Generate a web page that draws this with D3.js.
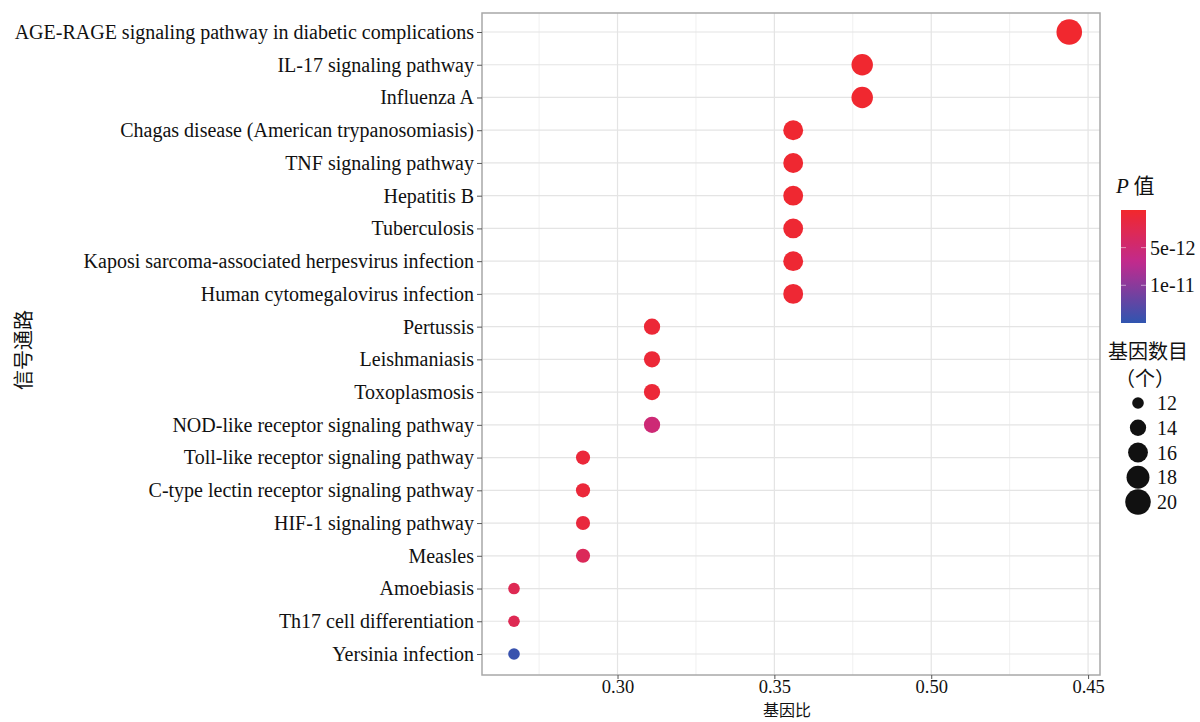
<!DOCTYPE html>
<html>
<head>
<meta charset="utf-8">
<script src="https://cdn.jsdelivr.net/npm/d3@7"></script>
<style>
  body { margin: 0; background: #fff; }
  svg text { font-family: "Liberation Serif", "Times New Roman", "Noto Sans CJK SC", serif; fill: #111; }
</style>
</head>
<body>
<div id="chart"></div>
<script>
// pathways, top to bottom
var pathways = [
  "AGE-RAGE signaling pathway in diabetic complications",
  "IL-17 signaling pathway",
  "Influenza A",
  "Chagas disease (American trypanosomiasis)",
  "TNF signaling pathway",
  "Hepatitis B",
  "Tuberculosis",
  "Kaposi sarcoma-associated herpesvirus infection",
  "Human cytomegalovirus infection",
  "Pertussis",
  "Leishmaniasis",
  "Toxoplasmosis",
  "NOD-like receptor signaling pathway",
  "Toll-like receptor signaling pathway",
  "C-type lectin receptor signaling pathway",
  "HIF-1 signaling pathway",
  "Measles",
  "Amoebiasis",
  "Th17 cell differentiation",
  "Yersinia infection"
];
var geneRatio = [0.444, 0.378, 0.378, 0.356, 0.356, 0.356, 0.356, 0.356, 0.356,
                 0.311, 0.311, 0.311, 0.311, 0.289, 0.289, 0.289, 0.289, 0.267, 0.267, 0.267];
var geneCount = [20, 17, 17, 16, 16, 16, 16, 16, 16, 14, 14, 14, 14, 13, 13, 13, 13, 12, 12, 12];
var pValue = [2e-13, 3e-13, 3e-13, 4e-13, 4e-13, 4e-13, 5e-13, 5e-13, 6e-13,
              8e-13, 8e-13, 9e-13, 5.2e-12, 1e-12, 1e-12, 1.2e-12, 3.2e-12, 2.8e-12, 2.8e-12, 1.45e-11];

var xTicks = [0.30, 0.35, 0.40, 0.45];
var xTickLabels = ["0.30", "0.35", "0.50", "0.45"];   // as printed on the original
var xMinor = [0.275, 0.325, 0.375, 0.425];
var pTicks = [5e-12, 1e-11];
var pTickLabels = ["5e-12", "1e-11"];
var sizeBreaks = [12, 14, 16, 18, 20];

var serif = "'Liberation Serif', 'Times New Roman', serif";
var cjk = "'Noto Sans CJK SC', sans-serif";

var width = 1200, height = 722;
var panel = {left: 482, right: 1100, top: 13, bottom: 675};

var svg = d3.select("#chart").append("svg")
    .attr("width", width).attr("height", height);

var x = d3.scaleLinear()
    .domain([0.2568, 0.4538])
    .range([panel.left, panel.right]);

var y = d3.scalePoint()
    .domain(pathways)
    .range([32, 654]);

var pMin = 1e-14, pMax = 1.5e-11;
var color = d3.scaleLinear()
    .domain([pMin, 7e-12, pMax])
    .range(["#f2282c", "#c02a8e", "#2f55b0"]);

// area scaling like ggplot
var size = d3.scaleLinear().domain([12, 20]).range([5.8 * 5.8, 12.8 * 12.8]);
var radius = function(n) { return Math.sqrt(size(n)); };

// grid
var grid = svg.append("g");
grid.selectAll(".minor")
  .data(xMinor)
  .join("line")
    .attr("x1", d => x(d)).attr("x2", d => x(d))
    .attr("y1", panel.top).attr("y2", panel.bottom)
    .attr("stroke", "#f0f0f0").attr("stroke-width", 1);
grid.selectAll(".major")
  .data(xTicks)
  .join("line")
    .attr("x1", d => x(d)).attr("x2", d => x(d))
    .attr("y1", panel.top).attr("y2", panel.bottom)
    .attr("stroke", "#e4e4e4").attr("stroke-width", 1.2);
grid.selectAll(".hrow")
  .data(pathways)
  .join("line")
    .attr("x1", panel.left).attr("x2", panel.right)
    .attr("y1", d => y(d)).attr("y2", d => y(d))
    .attr("stroke", "#e4e4e4").attr("stroke-width", 1.2);

// points
var rows = pathways.map((p, i) => ({name: p, ratio: geneRatio[i], count: geneCount[i], p: pValue[i]}));
svg.append("g").selectAll("circle")
  .data(rows)
  .join("circle")
    .attr("cx", d => x(d.ratio))
    .attr("cy", d => y(d.name))
    .attr("r", d => radius(d.count))
    .attr("fill", d => color(d.p));

// panel border
svg.append("rect")
    .attr("x", panel.left).attr("y", panel.top)
    .attr("width", panel.right - panel.left).attr("height", panel.bottom - panel.top)
    .attr("fill", "none").attr("stroke", "#a8a8a8").attr("stroke-width", 1.5);

// axes
var xAxis = d3.axisBottom(x).tickValues(xTicks)
    .tickFormat((d, i) => xTickLabels[i]).tickSize(4).tickPadding(1);
var gx = svg.append("g").attr("transform", `translate(0,${panel.bottom})`).call(xAxis);
gx.select(".domain").remove();
gx.selectAll("line").attr("stroke", "#555");
gx.selectAll("text")
    .style("font-family", serif).style("font-size", "18.5px").style("fill", "#111");

var yAxis = d3.axisLeft(y).tickSize(5).tickPadding(3);
var gy = svg.append("g").attr("transform", `translate(${panel.left},0)`).call(yAxis);
gy.select(".domain").remove();
gy.selectAll("line").attr("stroke", "#555");
gy.selectAll("text")
    .style("font-family", serif).style("font-size", "20px").style("fill", "#111");

// axis titles
svg.append("text")
    .attr("x", 787).attr("y", 716)
    .attr("text-anchor", "middle")
    .style("font-family", cjk).style("font-size", "16px")
    .text("基因比");
svg.append("text")
    .attr("transform", "translate(31,350) rotate(-90)")
    .attr("text-anchor", "middle")
    .style("font-family", cjk).style("font-size", "20px")
    .text("信号通路");

// colour legend
var leg = svg.append("g");
var pt = leg.append("text").attr("x", 1116).attr("y", 193).style("font-size", "21px");
pt.append("tspan").attr("font-style", "italic").style("font-family", serif).text("P");
pt.append("tspan").style("font-family", cjk).text(" 值");

var defs = svg.append("defs");
var grad = defs.append("linearGradient").attr("id", "pgrad")
    .attr("x1", 0).attr("x2", 0).attr("y1", 0).attr("y2", 1);
d3.range(0, 1.0001, 0.05).forEach(t => {
  grad.append("stop").attr("offset", t)
      .attr("stop-color", color(pMin + t * (pMax - pMin)));
});
var cb = d3.scaleLinear().domain([pMin, pMax]).range([210, 323]);
leg.append("rect")
    .attr("x", 1121).attr("y", 210).attr("width", 25).attr("height", 113)
    .attr("fill", "url(#pgrad)");
[1121, 1141].forEach(x0 => {
  leg.append("g").selectAll("line")
    .data(pTicks)
    .join("line")
      .attr("x1", x0).attr("x2", x0 + 5)
      .attr("y1", d => cb(d)).attr("y2", d => cb(d))
      .attr("stroke", "#fff").attr("stroke-opacity", 0.5);
});
leg.append("g").selectAll("text")
  .data(pTicks)
  .join("text")
    .attr("x", 1150).attr("y", d => cb(d) + 7)
    .style("font-family", serif).style("font-size", "20px")
    .text((d, i) => pTickLabels[i]);

// size legend
leg.append("text").attr("x", 1148).attr("y", 359)
    .attr("text-anchor", "middle")
    .style("font-family", cjk).style("font-size", "20px").text("基因数目");
leg.append("text").attr("x", 1145).attr("y", 386)
    .attr("text-anchor", "middle")
    .style("font-family", cjk).style("font-size", "20px").text("（个）");
var sy = d3.scalePoint().domain(sizeBreaks).range([403, 502]);
leg.append("g").selectAll("circle")
  .data(sizeBreaks)
  .join("circle")
    .attr("cx", 1138).attr("cy", d => sy(d))
    .attr("r", d => radius(d))
    .attr("fill", "#111");
leg.append("g").selectAll("text")
  .data(sizeBreaks)
  .join("text")
    .attr("x", 1157).attr("y", d => sy(d) + 7)
    .style("font-family", serif).style("font-size", "20px")
    .text(d => d);
</script>
</body>
</html>
